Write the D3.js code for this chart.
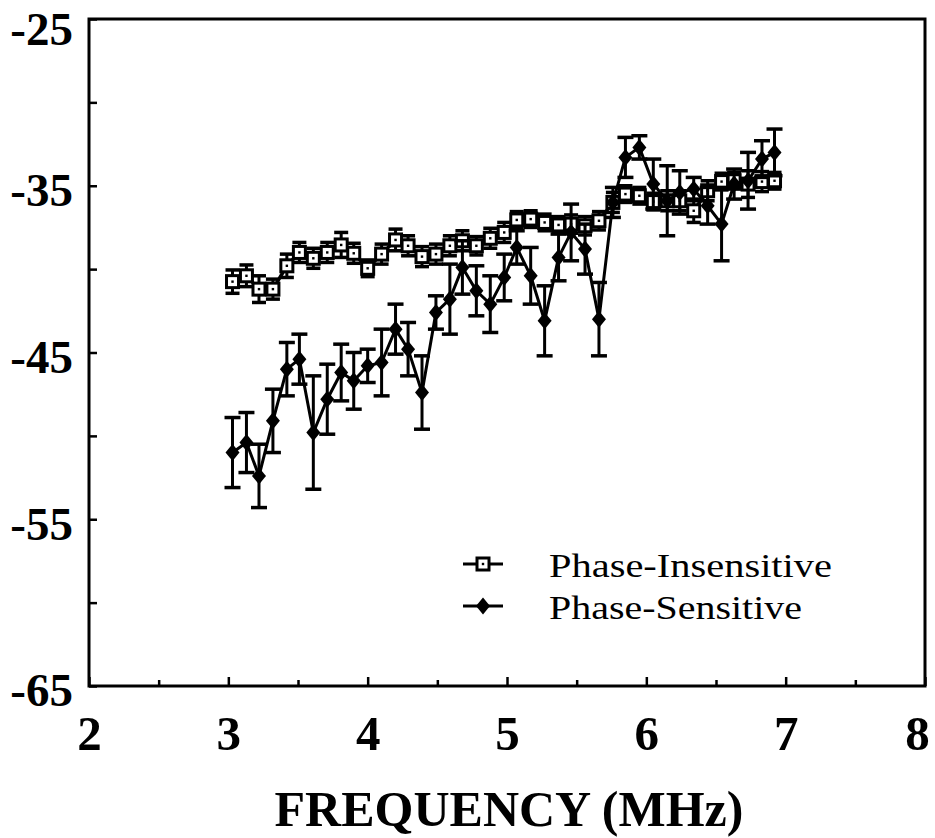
<html>
<head>
<script src="https://d3js.org/d3.v7.min.js"></script>
<style>
body { margin: 0; background: #fff; }
</style>
</head>
<body>
<div id="chart"></div>
<script>

const black = "#000";

// frequency (MHz) of each measurement
const freqs = [3.03, 3.13, 3.22, 3.32, 3.42, 3.51, 3.61, 3.71, 3.81, 3.90,
               4.00, 4.10, 4.20, 4.29, 4.39, 4.49, 4.59, 4.68, 4.78, 4.88,
               4.98, 5.07, 5.17, 5.27, 5.37, 5.46, 5.56, 5.66, 5.76, 5.85,
               5.95, 6.05, 6.15, 6.24, 6.34, 6.44, 6.54, 6.63, 6.73, 6.83, 6.92];

const piMean = [-40.75, -40.4, -41.2, -41.2, -39.8, -39.0, -39.35, -39.0, -38.55, -39.05,
                -39.95, -39.1, -38.25, -38.6, -39.25, -39.1, -38.6, -38.3, -38.6, -38.15,
                -37.8, -37.05, -37.0, -37.2, -37.35, -37.3, -37.4, -37.1, -36.0, -35.5,
                -35.6, -35.95, -35.9, -35.9, -36.5, -35.3, -34.75, -34.7, -34.9, -34.75, -34.7];
const piErr = [0.7, 0.65, 0.8, 0.6, 0.7, 0.6, 0.6, 0.6, 0.75, 0.6,
               0.5, 0.6, 0.65, 0.6, 0.6, 0.6, 0.6, 0.6, 0.55, 0.6,
               0.6, 0.5, 0.5, 0.5, 0.5, 0.55, 0.55, 0.55, 0.6, 0.5,
               0.5, 0.5, 0.6, 0.6, 0.7, 0.6, 0.5, 0.5, 0.8, 0.6, 0.5];

const psMean = [-51.0, -50.4, -52.4, -49.1, -46.0, -45.4, -49.8, -47.8, -46.2, -46.7,
                -45.8, -45.6, -43.6, -44.8, -47.4, -42.6, -41.8, -39.9, -41.3, -42.1,
                -40.5, -38.7, -40.4, -43.1, -39.3, -37.8, -38.8, -43.0, -36.0, -33.3,
                -32.7, -34.9, -35.9, -35.4, -35.2, -36.2, -37.3, -34.9, -34.7, -33.4, -33.0];
const psErr = [2.1, 1.8, 1.9, 1.9, 1.6, 1.5, 3.4, 2.1, 1.7, 1.7,
               1.0, 2.0, 1.5, 1.6, 2.2, 1.0, 2.1, 1.6, 1.5, 1.7,
               1.4, 1.0, 1.7, 2.1, 1.4, 1.7, 1.5, 2.2, 0.9, 1.2,
               0.7, 1.5, 2.1, 1.3, 0.7, 1.1, 2.2, 0.9, 1.7, 1.1, 1.4];

const xTicks = [2, 3, 4, 5, 6, 7, 8];
const xMinor = [2.5, 3.5, 4.5, 5.5, 6.5, 7.5];
const yTicks = [-25, -35, -45, -55, -65];
const yMinor = [-30, -40, -50, -60];
const legendNames = ["Phase-Insensitive", "Phase-Sensitive"];

const width = 935, height = 838;
const margin = { left: 89, right: 925, top: 19, bottom: 686 };

const svg = d3.select("#chart").append("svg")
              .attr("width", width)
              .attr("height", height);

const x = d3.scaleLinear().domain([2, 8]).range([margin.left, margin.right]);
const y = d3.scaleLinear().domain([-65, -25]).range([margin.bottom, margin.top]);

// frame
svg.append("rect")
   .attr("x", margin.left).attr("y", margin.top)
   .attr("width", margin.right - margin.left).attr("height", margin.bottom - margin.top)
   .attr("fill", "none")
   .attr("stroke", black)
   .attr("stroke-width", 3);

// plain hyphen, like the original
const fmt = d => (d < 0 ? "-" : "") + Math.abs(d);

// x axis, ticks pointing in
const xAxis = svg.append("g")
                 .attr("transform", "translate(0," + margin.bottom + ")")
                 .call(d3.axisBottom(x).tickValues(xTicks).tickSizeInner(-9).tickSizeOuter(0).tickPadding(29).tickFormat(fmt));
svg.append("g")
   .attr("transform", "translate(0," + margin.bottom + ")")
   .call(d3.axisBottom(x).tickValues(xMinor).tickSizeInner(-6).tickSizeOuter(0).tickFormat(""));

const yAxis = svg.append("g")
                 .attr("transform", "translate(" + margin.left + ",0)")
                 .call(d3.axisLeft(y).tickValues(yTicks).tickSizeInner(-8).tickSizeOuter(0).tickPadding(16).tickFormat(fmt));
svg.append("g")
   .attr("transform", "translate(" + margin.left + ",0)")
   .call(d3.axisLeft(y).tickValues(yMinor).tickSizeInner(-8).tickSizeOuter(0).tickFormat(""));

svg.selectAll(".domain").remove();
svg.selectAll(".tick line").attr("stroke", black).attr("stroke-width", 2.5);

xAxis.selectAll("text")
     .attr("font-family", "Liberation Serif")
     .attr("font-weight", "bold")
     .attr("font-size", "49px")
     .attr("fill", black)
     .attr("dy", "0.71em")
     .attr("dx", d => d === 8 ? -8 : 0);

yAxis.selectAll("text")
     .attr("font-family", "Liberation Serif")
     .attr("font-weight", "bold")
     .attr("font-size", "47px")
     .attr("fill", black)
     .attr("dy", d => d === -25 ? "0.55em" : "0.42em");

svg.append("text")
   .attr("x", 509)
   .attr("y", 826)
   .attr("text-anchor", "middle")
   .attr("font-family", "Liberation Serif")
   .attr("font-weight", "bold")
   .attr("font-size", "50px")
   .attr("fill", black)
   .text("FREQUENCY (MHz)");

// data
const pi = freqs.map((f, i) => ({ f: f, m: piMean[i], e: piErr[i] }));
const ps = freqs.map((f, i) => ({ f: f, m: psMean[i], e: psErr[i] }));

const line = d3.line().x(d => x(d.f)).y(d => y(d.m));

function errorBars(data, cap, cls) {
  const g = svg.append("g").attr("class", cls);
  g.selectAll("line.stem").data(data).enter().append("line")
   .attr("class", "stem")
   .attr("x1", d => x(d.f)).attr("x2", d => x(d.f))
   .attr("y1", d => y(d.m + d.e)).attr("y2", d => y(d.m - d.e))
   .attr("stroke", black).attr("stroke-width", 3);
  g.selectAll("line.top").data(data).enter().append("line")
   .attr("class", "top")
   .attr("x1", d => x(d.f) - cap).attr("x2", d => x(d.f) + cap)
   .attr("y1", d => y(d.m + d.e)).attr("y2", d => y(d.m + d.e))
   .attr("stroke", black).attr("stroke-width", 3.5);
  g.selectAll("line.bot").data(data).enter().append("line")
   .attr("class", "bot")
   .attr("x1", d => x(d.f) - cap).attr("x2", d => x(d.f) + cap)
   .attr("y1", d => y(d.m - d.e)).attr("y2", d => y(d.m - d.e))
   .attr("stroke", black).attr("stroke-width", 3.5);
}

// phase-insensitive
errorBars(pi, 7, "pi-err");
svg.append("path").datum(pi)
   .attr("d", line)
   .attr("fill", "none")
   .attr("stroke", black)
   .attr("stroke-width", 3.5);

function squares(sel) {
  sel.append("rect")
     .attr("x", -6).attr("y", -6).attr("width", 12).attr("height", 12)
     .attr("fill", "#fff").attr("stroke", black).attr("stroke-width", 3);
  sel.append("rect")
     .attr("x", -1.2).attr("y", -1.2).attr("width", 2.4).attr("height", 2.4)
     .attr("fill", black);
}

svg.selectAll("g.sq").data(pi).enter().append("g")
   .attr("class", "sq")
   .attr("transform", d => "translate(" + x(d.f) + "," + y(d.m) + ")")
   .call(squares);

// phase-sensitive
errorBars(ps, 8, "ps-err");
svg.append("path").datum(ps)
   .attr("d", line)
   .attr("fill", "none")
   .attr("stroke", black)
   .attr("stroke-width", 3);

const diamond = "M0,-8.5L7,0L0,8.5L-7,0Z";
svg.selectAll("path.dia").data(ps).enter().append("path")
   .attr("class", "dia")
   .attr("d", diamond)
   .attr("transform", d => "translate(" + x(d.f) + "," + y(d.m) + ")")
   .attr("fill", black);

// legend
const legend = svg.selectAll("g.legend").data(legendNames).enter().append("g")
                  .attr("class", "legend")
                  .attr("transform", (d, i) => "translate(463," + (564 + i * 42) + ")");
legend.append("line")
      .attr("x1", 0).attr("x2", 40).attr("y1", 0).attr("y2", 0)
      .attr("stroke", black).attr("stroke-width", 3);
legend.filter((d, i) => i === 0).append("g")
      .attr("transform", "translate(20,0)")
      .call(squares);
legend.filter((d, i) => i === 1).append("path")
      .attr("d", diamond)
      .attr("transform", "translate(20,0)")
      .attr("fill", black);
legend.append("text")
      .attr("x", 86)
      .attr("y", 1)
      .attr("dy", "0.35em")
      .attr("font-family", "Liberation Serif")
      .attr("font-size", "34px")
      .attr("textLength", (d, i) => i === 0 ? 283 : 253)
      .attr("lengthAdjust", "spacingAndGlyphs")
      .attr("fill", black)
      .text(d => d);

</script>
</body>
</html>
